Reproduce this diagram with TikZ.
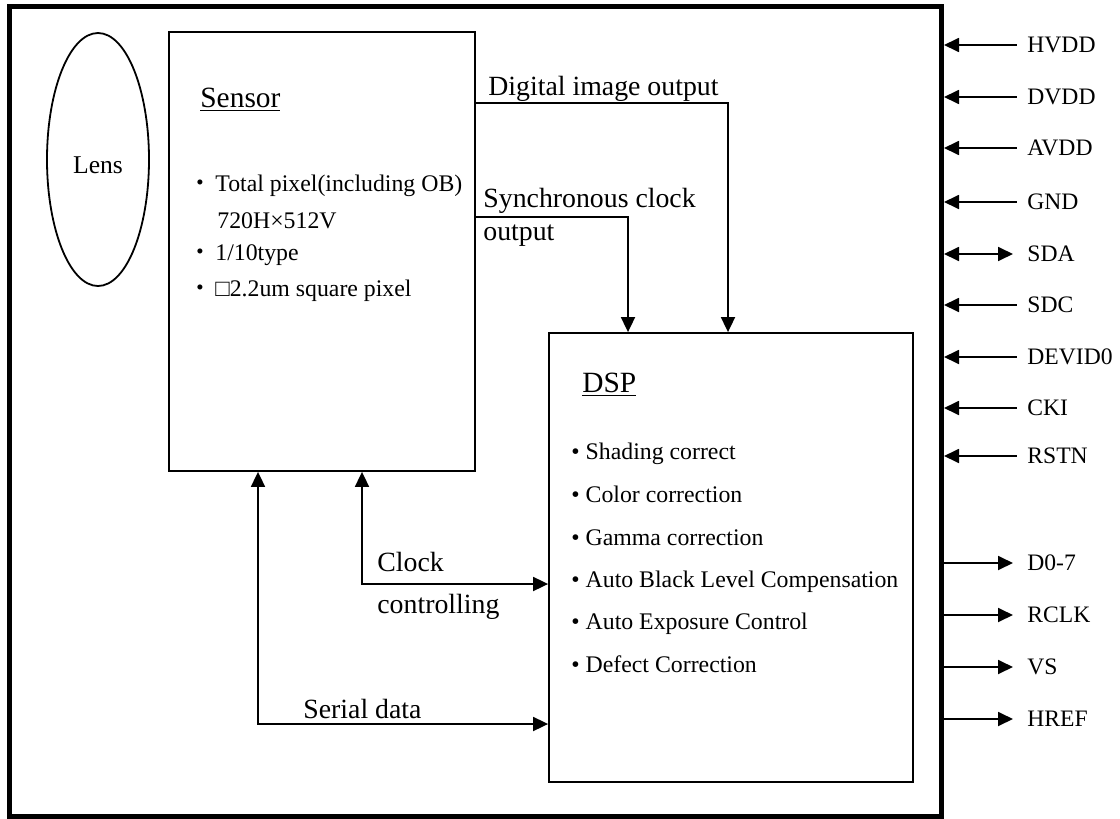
\documentclass[tikz,border=0pt]{standalone}
\usepackage{fontspec}
\setmainfont{Liberation Serif}
\newfontfamily\cjk{Noto Sans CJK JP}
\usetikzlibrary{arrows.meta,shapes.geometric}

\begin{document}
\begin{tikzpicture}[x=0.5pt,y=-0.5pt,
  block/.style={draw, line width=0.9pt, inner sep=0pt, rectangle},
  txt/.style={inner sep=0pt, anchor=base west, font=\fontsize{11.9pt}{14pt}\selectfont},
  title/.style={inner sep=0pt, anchor=base west, font=\fontsize{14.7pt}{17pt}\selectfont},
  lbl/.style={inner sep=0pt, anchor=base west, font=\fontsize{13.9pt}{16pt}\selectfont},
  pin/.style={inner sep=0pt, anchor=west, font=\fontsize{11.8pt}{14pt}\selectfont},
  tri/.tip={Triangle[length=7.5pt,width=7pt]},
  wire/.style={line width=0.9pt},
  arrin/.style={wire, tri-},
  arrout/.style={wire, -tri},
  arrboth/.style={wire, tri-tri}
]
\useasboundingbox (0,0) rectangle (1120,819);

% module outline
\node[block, line width=2.5pt, minimum width=466pt, minimum height=404.75pt] (chip) at (475.5,411.25) {};

% lens (label sits a little below the ellipse centre)
\node[draw, line width=0.9pt, ellipse, inner sep=0pt, minimum width=51pt, minimum height=126.5pt,
      font=\fontsize{12.8pt}{15pt}\selectfont] (lens) at (98,159.5) {\raisebox{-7.2pt}[0pt][0pt]{Lens}};

% sensor block
\node[block, minimum width=153pt, minimum height=219.5pt] (sensor) at (322,251.5) {};
\node[title] (sensorT) at (200,107) {\underline{Sensor}};
\node[txt] (s1) at (184,191) {\makebox[15.5pt]{\cjk ・}Total pixel(including OB)};
\node[txt] (s2) at (217,228) {720H×512V};
\node[txt] (s3) at (184,260) {\makebox[15.5pt]{\cjk ・}1/10type};
\node[txt] (s4) at (184,296) {\makebox[15.5pt]{\cjk ・}□2.2um square pixel};

% DSP block
\node[block, minimum width=182pt, minimum height=224.5pt] (dsp) at (731,557.5) {};
\node[title] (dspT) at (582,392) {\underline{DSP}};
\node[txt] (d1) at (571,459) {• Shading correct};
\node[txt] (d2) at (571,502) {• Color correction};
\node[txt] (d3) at (571,545) {• Gamma correction};
\node[txt] (d4) at (571,587) {• Auto Black Level Compensation};
\node[txt] (d5) at (571,629) {• Auto Exposure Control};
\node[txt] (d6) at (571,672) {• Defect Correction};

% sensor -> DSP
\coordinate (dio) at (728,103);
\coordinate (sco) at (628,217);
\draw[arrout] (sensor.east |- dio) -- (dio) -- (dio |- dsp.north);
\draw[arrout] (sensor.east |- sco) -- (sco) -- (sco |- dsp.north);
\node[lbl] (ldio) at (488,95) {Digital image output};
\node[lbl] (lsco1) at (483,207) {Synchronous clock};
\node[lbl] (lsco2) at (483,240) {output};

% control paths
\coordinate (clk) at (362,584);
\coordinate (ser) at (258,724);
\draw[arrboth] (sensor.south -| clk) -- (clk) -- (clk -| dsp.west);
\draw[arrboth] (sensor.south -| ser) -- (ser) -- (ser -| dsp.west);
\node[lbl] (lclk1) at (377,571) {Clock};
\node[lbl] (lclk2) at (377,613) {controlling};
\node[lbl] (lser) at (303,718) {Serial data};

% pins
\foreach \i/\y/\lab in {1/45/HVDD, 2/97/DVDD, 3/148/AVDD, 4/202/GND, 6/305/SDC, 7/357/DEVID0, 8/408/CKI, 9/456/RSTN} {
  \node[pin] (p\i) at (1027,\y) {\lab};
  \draw[arrin] (chip.east |- p\i.west) -- ([xshift=-5pt]p\i.west);
}
\node[pin] (p5) at (1027,254) {SDA};
\draw[arrboth] (chip.east |- p5.west) -- ([xshift=-7pt]p5.west);
\foreach \i/\y/\lab in {10/563/D0-7, 11/615/RCLK, 12/667/VS, 13/719/HREF} {
  \node[pin] (p\i) at (1027,\y) {\lab};
  \draw[arrout] (chip.east |- p\i.west) -- ([xshift=-7pt]p\i.west);
}
\end{tikzpicture}
\end{document}
